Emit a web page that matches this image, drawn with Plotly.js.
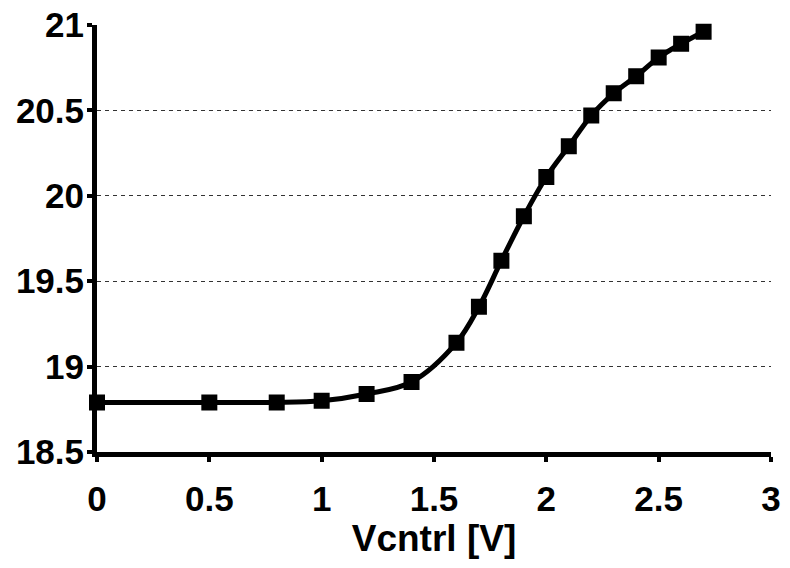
<!DOCTYPE html>
<html>
<head>
<meta charset="utf-8">
<script src="https://cdn.plot.ly/plotly-3.0.1.min.js"></script>
<style>html,body{margin:0;padding:0;background:#fff;}#chart{width:790px;height:568px;}</style>
</head>
<body>
<div id="chart"></div>
<script>
// Data
const vcntrl = [0, 0.5, 0.8, 1.0, 1.2, 1.4, 1.6, 1.7, 1.8, 1.9, 2.0, 2.1, 2.2, 2.3, 2.4, 2.5, 2.6, 2.7];
const values = [18.79, 18.79, 18.79, 18.80, 18.84, 18.91, 19.14, 19.35, 19.62, 19.88, 20.11, 20.29, 20.47, 20.60, 20.70, 20.81, 20.89, 20.96];
const xTicks = [0, 0.5, 1, 1.5, 2, 2.5, 3];
const xTickText = ['0', '0.5', '1', '1.5', '2', '2.5', '3'];
const yTicks = [18.5, 19, 19.5, 20, 20.5, 21];
const yTickText = ['18.5', '19', '19.5', '20', '20.5', '21'];
const xTitle = 'Vcntrl [V]';

const tickFont = {family: 'Liberation Sans, Arial, sans-serif', size: 35, color: '#000', weight: 700};
const titleFont = {family: 'Liberation Sans, Arial, sans-serif', size: 37, color: '#000', weight: 700};

const trace = {
  x: vcntrl,
  y: values,
  type: 'scatter',
  mode: 'lines+markers',
  line: {color: '#000', width: 5, shape: 'spline', smoothing: 1},
  marker: {symbol: 'square', size: 14, color: '#000', line: {color: '#000', width: 2}},
  cliponaxis: false,
  showlegend: false
};

const layout = {
  width: 790,
  height: 568,
  margin: {l: 97, r: 19, t: 25, b: 116, pad: 0},
  paper_bgcolor: '#fff',
  plot_bgcolor: '#fff',
  font: tickFont,
  xaxis: {
    range: [0, 3],
    tickmode: 'array',
    tickvals: xTicks,
    ticktext: xTickText,
    showgrid: false,
    zeroline: false,
    showline: true,
    linecolor: '#000',
    linewidth: 5,
    ticks: 'outside',
    ticklen: 5,
    tickwidth: 4,
    tickcolor: '#000',
    ticklabelstandoff: 7,
    tickfont: tickFont,
    title: {text: xTitle, font: titleFont, standoff: 10}
  },
  yaxis: {
    range: [18.5, 21],
    tickmode: 'array',
    tickvals: yTicks,
    ticktext: yTickText,
    showgrid: true,
    gridcolor: '#333',
    gridwidth: 1,
    griddash: '4px,4px',
    zeroline: false,
    showline: true,
    linecolor: '#000',
    linewidth: 5,
    ticks: 'outside',
    ticklen: 5,
    tickwidth: 4,
    tickcolor: '#000',
    ticklabelstandoff: -4,
    tickfont: tickFont
  }
};

Plotly.newPlot('chart', [trace], layout, {displayModeBar: false, staticPlot: true});
</script>
</body>
</html>
